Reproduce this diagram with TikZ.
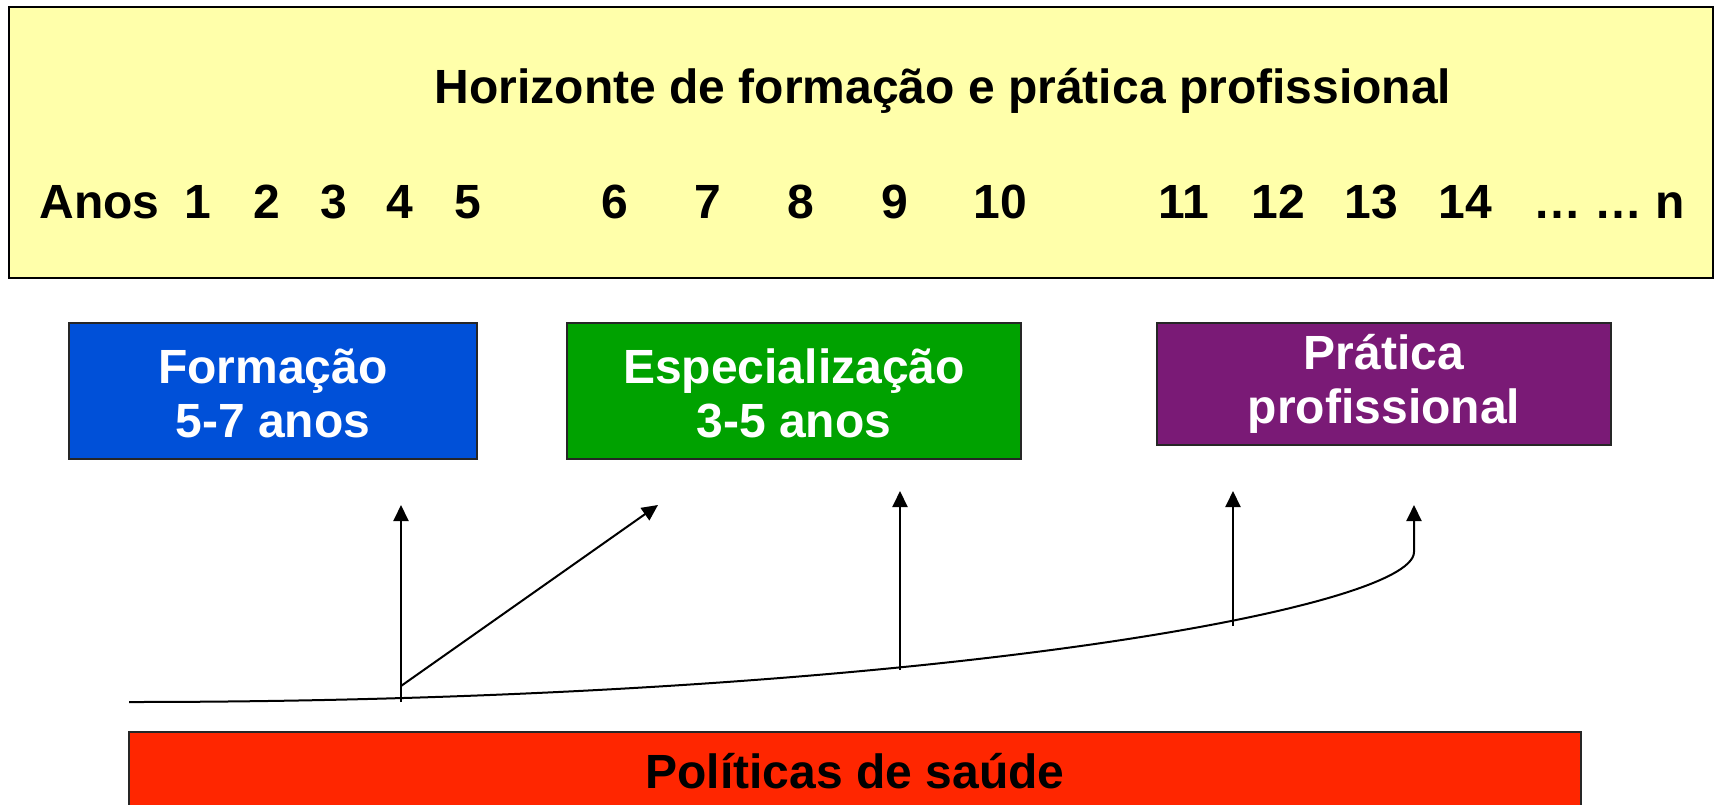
\documentclass[tikz,border=0pt]{standalone}
\usepackage{fontspec}
\setmainfont{Liberation Sans}
\usetikzlibrary{arrows.meta}
\definecolor{ybg}{HTML}{FFFFAA}
\definecolor{fblue}{HTML}{0050D8}
\definecolor{fgreen}{HTML}{00A200}
\definecolor{fpurple}{HTML}{7A1A76}
\definecolor{fred}{HTML}{FF2600}
\tikzset{
  txt/.style={font=\fontsize{48}{54}\selectfont\bfseries},
  box/.style={draw=black!85, line width=2pt, text=white, align=center, inner sep=0pt, txt},
  conn/.style={line width=2pt, -{Triangle[length=16,width=15]}},
  num/.style={anchor=base, txt, inner sep=0pt}
}
\begin{document}
\begin{tikzpicture}[x=1pt,y=-1pt]
\useasboundingbox (0,0) rectangle (1719,804);
\clip (0,0) rectangle (1719,804);
\fill[white] (0,0) rectangle (1719,804);

% header
\node[draw=black, fill=ybg, line width=2pt, inner sep=0pt, minimum width=1704, minimum height=271, anchor=north west] (hdr) at (8,6) {};
\node[num] (title) at (943,103) {Horizonte de formação e prática profissional};
\node[num] (anos) at (99.5,218) {Anos};
\node[num] (n1) at (198,218) {1};
\node[num] (n2) at (267,218) {2};
\node[num] (n3) at (334,218) {3};
\node[num] (n4) at (400,218) {4};
\node[num] (n5) at (468,218) {5};
\node[num] (n6) at (615,218) {6};
\node[num] (n7) at (708,218) {7};
\node[num] (n8) at (801,218) {8};
\node[num] (n9) at (895,218) {9};
\node[num] (n10) at (1000,218) {10};
\node[num] (n11) at (1184,218) {11};
\node[num] (n12) at (1278,218) {12};
\node[num] (n13) at (1371,218) {13};
\node[num] (n14) at (1465,218) {14};
\node[num] (nn) at (1609,218) {… … n};

% stage boxes
\node[box, fill=fblue, minimum width=408, minimum height=136] (form) at (273,391) {\rule{0pt}{39pt}Formação\\5-7 anos};
\node[box, fill=fgreen, minimum width=454, minimum height=136] (esp) at (794,391) {\rule{0pt}{39pt}Especialização\\3-5 anos};
\node[box, fill=fpurple, minimum width=454, minimum height=122] (prat) at (1384,384) {Prática\\profissional};

% policies box
\node[draw=black!85, fill=fred, line width=2pt, inner sep=0pt, minimum width=1452, minimum height=120, anchor=north] (pol) at (855,731) {};
\node[num] (poltxt) at (855,788) {Políticas de saúde};

% connectors
\coordinate (c0) at (129,702);
\coordinate (cend) at (1414,552);
\coordinate (t5) at (1414,505);
\coordinate (a1s) at (401,702);
\coordinate (a1e) at (401,505);
\coordinate (a2s) at (401,686);
\coordinate (a2e) at (658,505);
\coordinate (a3s) at (900,670);
\coordinate (a3e) at (900,491);
\coordinate (a4s) at (1233,626);
\coordinate (a4e) at (1233,491);

\draw[conn] (c0) .. controls (900,702) and (1414,610) .. (cend) -- (t5);
\draw[conn] (a1s) -- (a1e);
\draw[conn] (a2s) -- (a2e);
\draw[conn] (a3s) -- (a3e);
\draw[conn] (a4s) -- (a4e);
\end{tikzpicture}
\end{document}
